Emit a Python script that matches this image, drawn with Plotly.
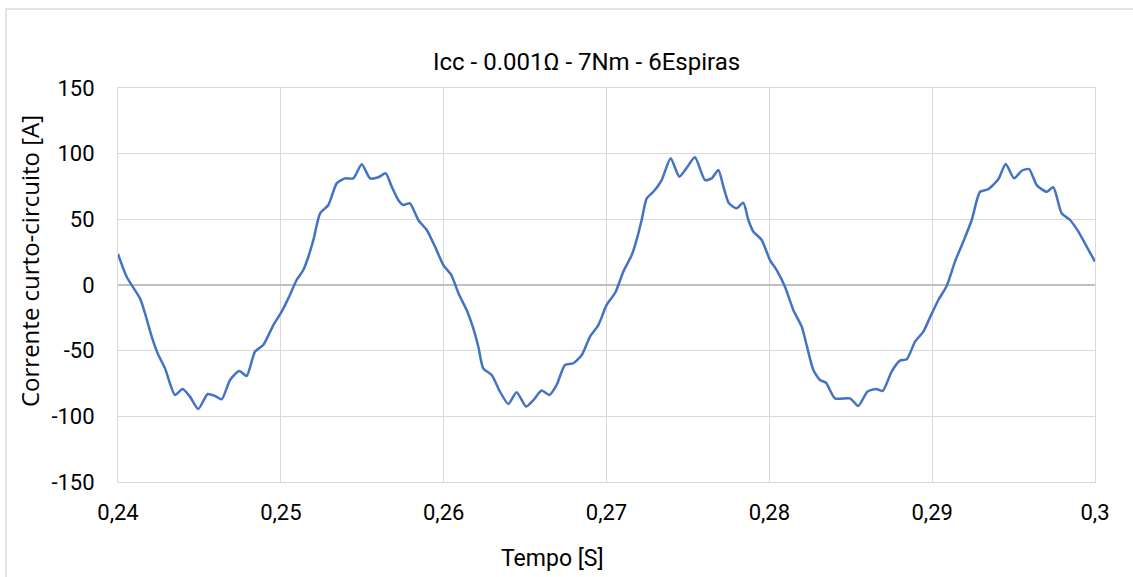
import plotly.graph_objects as go

# Short-circuit current trace, 0.24 s to 0.30 s
tempo = [
    0.24000, 0.24053, 0.24135, 0.24166, 0.24207, 0.24248, 0.24289, 0.24319,
    0.24350, 0.24397, 0.24442, 0.24493, 0.24551, 0.24596, 0.24637, 0.24688,
    0.24745, 0.24790, 0.24841, 0.24892, 0.24954, 0.25005, 0.25046, 0.25097,
    0.25138, 0.25169, 0.25200, 0.25241, 0.25292, 0.25343, 0.25394, 0.25445,
    0.25497, 0.25548, 0.25599, 0.25644, 0.25681, 0.25721, 0.25752, 0.25793,
    0.25844, 0.25896, 0.25947, 0.25998, 0.26045, 0.26095, 0.26141, 0.26182,
    0.26213, 0.26243, 0.26295, 0.26346, 0.26397, 0.26448, 0.26506, 0.26551,
    0.26602, 0.26649, 0.26694, 0.26745, 0.26796, 0.26848, 0.26899, 0.26950,
    0.27001, 0.27055, 0.27103, 0.27155, 0.27185, 0.27216, 0.27247, 0.27288,
    0.27339, 0.27394, 0.27447, 0.27493, 0.27543, 0.27605, 0.27646, 0.27687,
    0.27718, 0.27752, 0.27799, 0.27840, 0.27871, 0.27902, 0.27953, 0.28004,
    0.28045, 0.28096, 0.28147, 0.28199, 0.28229, 0.28270, 0.28311, 0.28348,
    0.28403, 0.28495, 0.28546, 0.28602, 0.28655, 0.28696, 0.28751, 0.28802,
    0.28844, 0.28895, 0.28946, 0.28987, 0.29038, 0.29089, 0.29140, 0.29191,
    0.29243, 0.29294, 0.29345, 0.29406, 0.29452, 0.29503, 0.29550, 0.29595,
    0.29642, 0.29703, 0.29744, 0.29795, 0.29847, 0.29898, 0.29949, 0.30000,
]
corrente = [
    23.6, 6.3, -10.2, -21.6, -39.3, -53.3, -63.5, -74.9,
    -83.8, -79.2, -85.0, -94.4, -83.0, -84.5, -87.0, -72.3,
    -65.5, -69.3, -50.8, -45.7, -30.5, -20.3, -10.2, 3.8,
    11.4, 21.5, 34.3, 54.6, 60.9, 77.4, 81.2, 81.2,
    91.9, 81.2, 82.0, 85.0, 74.9, 64.7, 60.9, 62.2,
    49.5, 41.9, 29.2, 15.2, 8.0, -7.5, -19.0, -33.0,
    -47.0, -63.5, -68.5, -81.2, -90.6, -81.7, -92.6, -87.6,
    -80.4, -83.8, -76.1, -60.9, -59.6, -53.3, -39.3, -30.5,
    -15.2, -5.5, 10.1, 22.8, 34.3, 49.5, 66.0, 71.0,
    79.9, 96.5, 82.5, 89.3, 97.2, 79.9, 81.2, 87.6,
    74.9, 62.2, 58.4, 62.7, 49.5, 40.6, 34.3, 19.0,
    11.4, -1.3, -19.0, -31.7, -45.7, -64.7, -72.3, -74.4,
    -86.3, -86.3, -92.1, -81.2, -79.2, -80.7, -66.0, -57.6,
    -56.6, -43.1, -35.5, -24.6, -11.4, -0.8, 17.8, 33.0,
    49.5, 71.0, 72.9, 80.5, 92.1, 81.2, 87.0, 88.3,
    76.1, 71.0, 74.4, 54.6, 49.5, 40.6, 29.2, 17.8,
]

x_ticks = [0.24, 0.25, 0.26, 0.27, 0.28, 0.29, 0.30]
x_tick_labels = ["0,24", "0,25", "0,26", "0,27", "0,28", "0,29", "0,3"]
y_ticks = [-150, -100, -50, 0, 50, 100, 150]
y_tick_labels = ["-150", "-100", "-50", "0", "50", "100", "150"]

title_text = "Icc - 0.001Ω - 7Nm - 6Espiras"
x_title = "Tempo [S]"
y_title = "Corrente curto-circuito [A]"

narrow = "Roboto, Noto Sans, sans-serif"
plain = "Open Sans, Noto Sans, sans-serif"
grid = "#d9d9d9"

fig = go.Figure()
fig.add_trace(go.Scatter(
    x=tempo, y=corrente, mode="lines",
    line=dict(color="#4472C4", width=2.5, shape="spline", smoothing=0.6),
    showlegend=False, hoverinfo="x+y",
))

fig.update_layout(
    width=1133, height=577,
    margin=dict(l=118, r=38, t=88, b=95),
    paper_bgcolor="white", plot_bgcolor="white",
    font=dict(family=narrow, size=22, color="#000000"),
    xaxis=dict(
        range=[0.24, 0.30], tickvals=x_ticks, ticktext=x_tick_labels,
        showgrid=True, gridcolor=grid, gridwidth=1,
        showline=True, linecolor=grid, linewidth=1, mirror=True,
        zeroline=False, ticks="", ticklabelstandoff=11,
        tickfont=dict(family=narrow, size=22),
    ),
    yaxis=dict(
        range=[-150, 150], tickvals=y_ticks, ticktext=y_tick_labels,
        showgrid=True, gridcolor=grid, gridwidth=1,
        showline=True, linecolor=grid, linewidth=1, mirror=True,
        zeroline=True, zerolinecolor="#bfbfbf", zerolinewidth=2,
        ticks="", ticklabelstandoff=18,
        tickfont=dict(family=narrow, size=22),
    ),
    annotations=[
        dict(text=title_text, xref="paper", yref="paper", x=0.48, y=1.066,
             xanchor="center", yanchor="middle", showarrow=False,
             font=dict(family=narrow, size=24)),
        dict(text=x_title, xref="paper", yref="paper", x=0.445, y=-0.1954,
             xanchor="center", yanchor="middle", showarrow=False,
             font=dict(family=narrow, size=23)),
        dict(text=y_title, xref="paper", yref="paper", x=-0.090, y=0.561,
             xanchor="center", yanchor="middle", showarrow=False, textangle=-90,
             font=dict(family=plain, size=24)),
    ],
    shapes=[
        # outer chart frame (runs off the right and bottom edges)
        dict(type="rect", xref="paper", yref="paper",
             x0=(6 - 118) / 977, x1=(1140 - 118) / 977,
             y0=(482 - 590) / 394, y1=(482 - 9) / 394,
             line=dict(color="#d9d9d9", width=1.5), layer="below"),
    ],
)

fig.write_html("out.html")
